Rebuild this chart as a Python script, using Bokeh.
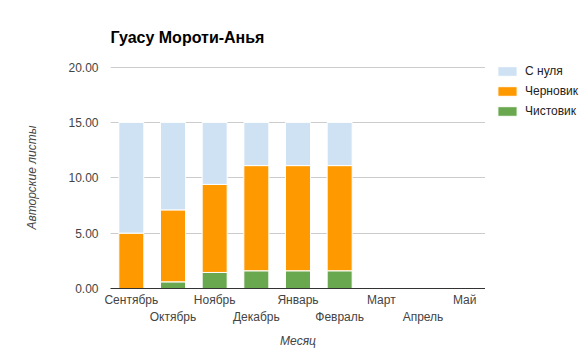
from bokeh.plotting import figure
from bokeh.layouts import row
from bokeh.models import (FactorRange, Range1d, NumeralTickFormatter, Legend, LegendItem,
                          FixedTicker, CategoricalAxis, CustomJSTickFormatter)
from bokeh.embed import file_html
from bokeh.resources import INLINE

months = ["Сентябрь", "Октябрь", "Ноябрь", "Декабрь", "Январь", "Февраль", "Март", "Апрель", "Май"]
clean = [0.0, 0.6, 1.45, 1.6, 1.6, 1.6, 0, 0, 0]
draft = [5.0, 6.5, 7.95, 9.5, 9.5, 9.5, 0, 0, 0]
scratch = [10.0, 7.9, 5.6, 3.9, 3.9, 3.9, 0, 0, 0]
series = ["Чистовик", "Черновик", "С нуля"]
colors = ["#6aa84f", "#ff9900", "#cfe2f3"]
y_ticks = [0, 5, 10, 15, 20]

FONT = "Liberation Sans"
data = {"m": months, "Чистовик": clean, "Черновик": draft, "С нуля": scratch}

p = figure(width=485, height=352, x_range=FactorRange(*months, range_padding=0),
           y_range=Range1d(0, 20.05), output_backend="svg", toolbar_location=None,
           min_border_left=110, min_border_right=0, min_border_top=66, min_border_bottom=64,
           title="Гуасу Мороти-Анья")

rs = p.vbar_stack(series, x="m", width=0.6, color=colors, line_color="white", line_width=1, source=data)

p.title.text_font = FONT
p.title.text_font_size = "16px"
p.title.text_font_style = "bold"
p.title.text_color = "#000000"
p.title.align = "left"
p.title.standoff = 41

p.outline_line_color = None
p.xgrid.grid_line_color = None
p.ygrid.grid_line_color = "#cccccc"

p.yaxis.ticker = FixedTicker(ticks=y_ticks)
p.yaxis.formatter = NumeralTickFormatter(format="0.00")
p.yaxis.axis_line_color = None
p.yaxis.major_tick_line_color = None
p.yaxis.minor_tick_line_color = None
p.yaxis.major_tick_out = 0
p.yaxis.major_tick_in = 0
p.yaxis.major_label_text_font = FONT
p.yaxis.major_label_text_font_size = "12px"
p.yaxis.major_label_text_color = "#444444"
p.yaxis.major_label_standoff = 12
p.yaxis.axis_label = "Авторские листы"
p.yaxis.axis_label_text_font = FONT
p.yaxis.axis_label_text_font_size = "12px"
p.yaxis.axis_label_text_font_style = "italic"
p.yaxis.axis_label_text_color = "#444444"
p.yaxis.axis_label_standoff = 26


def style_x(ax):
    ax.major_tick_line_color = None
    ax.minor_tick_line_color = None
    ax.major_tick_out = 0
    ax.major_tick_in = 0
    ax.major_label_text_font = FONT
    ax.major_label_text_font_size = "12px"
    ax.major_label_text_color = "#444444"


# first row of month names: even positions
xa = p.xaxis[0]
style_x(xa)
xa.axis_line_color = "#333333"
xa.axis_line_width = 1
xa.major_label_standoff = 4
xa.formatter = CustomJSTickFormatter(code="return (index % 2 == 0) ? tick : '';")

# second row of month names: odd positions
xb = CategoricalAxis()
style_x(xb)
xb.axis_line_color = None
xb.major_label_standoff = 0
xb.formatter = CustomJSTickFormatter(code="return (index % 2 == 1) ? tick : '';")
xb.axis_label = "Месяц"
xb.axis_label_text_font = FONT
xb.axis_label_text_font_size = "12px"
xb.axis_label_text_font_style = "italic"
xb.axis_label_text_color = "#444444"
xb.axis_label_standoff = 7
p.add_layout(xb, "below")

# legend panel on the right (same series; its bars are hidden)
q = figure(width=97, height=352, x_range=FactorRange(*months), y_range=Range1d(0, 20),
           output_backend="svg", toolbar_location=None, x_axis_type=None, y_axis_type=None,
           min_border_left=0, min_border_right=0, min_border_top=66, min_border_bottom=64)
q.outline_line_color = None
q.grid.visible = False
qs = q.vbar_stack(series, x="m", width=0.6, color=colors, line_color="white", source=data)
for r in qs:
    r.visible = False

items = [LegendItem(label=s, renderers=[r]) for s, r in zip(series, qs)][::-1]
legend = Legend(items=items, location=(10, 170), padding=0, margin=0, spacing=6,
                glyph_width=24, glyph_height=12, label_height=12, label_standoff=6,
                label_text_font=FONT, label_text_font_size="12px", label_text_color="#222222",
                border_line_color=None, background_fill_alpha=0)
q.add_layout(legend, "center")

layout = row(p, q, spacing=0)
open("out.html", "w").write(file_html(layout, INLINE))
